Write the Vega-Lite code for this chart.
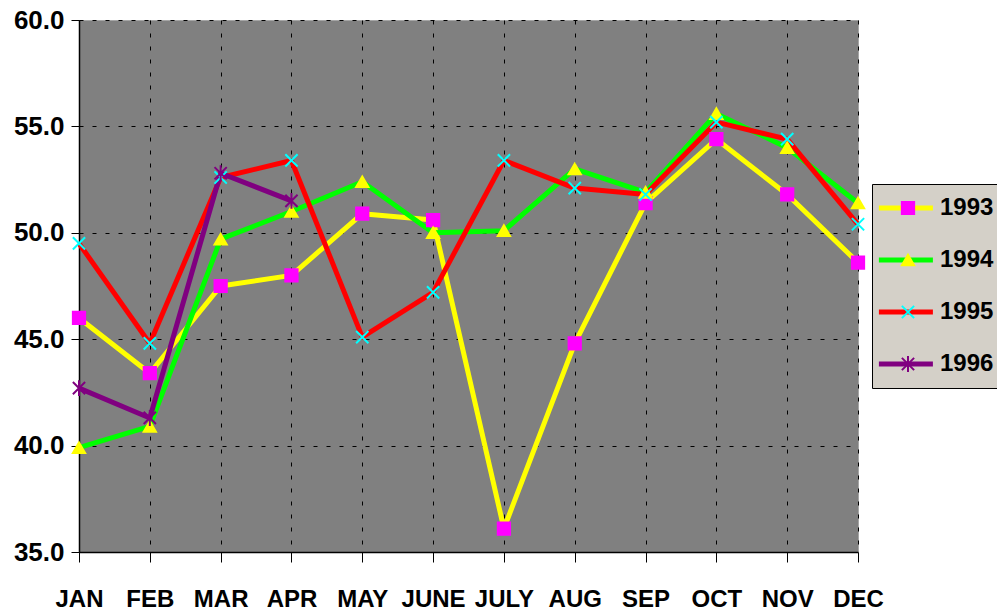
{
  "$schema": "https://vega.github.io/schema/vega-lite/v6.json",
  "width": 779,
  "height": 532,
  "autosize": "none",
  "padding": {"left": 79, "top": 20, "right": 139, "bottom": 61},
  "background": "white",
  "config": {
    "view": {"fill": "#808080", "stroke": "#a6a6a6", "strokeWidth": 1},
    "font": "Liberation Sans"
  },
  "data": {
    "values": [
      {"month": "JAN", "year": "1993", "value": 46.0},
      {"month": "FEB", "year": "1993", "value": 43.4},
      {"month": "MAR", "year": "1993", "value": 47.5},
      {"month": "APR", "year": "1993", "value": 48.0},
      {"month": "MAY", "year": "1993", "value": 50.9},
      {"month": "JUNE", "year": "1993", "value": 50.6},
      {"month": "JULY", "year": "1993", "value": 36.1},
      {"month": "AUG", "year": "1993", "value": 44.8},
      {"month": "SEP", "year": "1993", "value": 51.4},
      {"month": "OCT", "year": "1993", "value": 54.4},
      {"month": "NOV", "year": "1993", "value": 51.8},
      {"month": "DEC", "year": "1993", "value": 48.6},
      {"month": "JAN", "year": "1994", "value": 39.9},
      {"month": "FEB", "year": "1994", "value": 40.9},
      {"month": "MAR", "year": "1994", "value": 49.7},
      {"month": "APR", "year": "1994", "value": 51.0},
      {"month": "MAY", "year": "1994", "value": 52.4},
      {"month": "JUNE", "year": "1994", "value": 50.0},
      {"month": "JULY", "year": "1994", "value": 50.1},
      {"month": "AUG", "year": "1994", "value": 53.0},
      {"month": "SEP", "year": "1994", "value": 51.9},
      {"month": "OCT", "year": "1994", "value": 55.6},
      {"month": "NOV", "year": "1994", "value": 54.0},
      {"month": "DEC", "year": "1994", "value": 51.4},
      {"month": "JAN", "year": "1995", "value": 49.5},
      {"month": "FEB", "year": "1995", "value": 44.8},
      {"month": "MAR", "year": "1995", "value": 52.6},
      {"month": "APR", "year": "1995", "value": 53.4},
      {"month": "MAY", "year": "1995", "value": 45.1},
      {"month": "JUNE", "year": "1995", "value": 47.2},
      {"month": "JULY", "year": "1995", "value": 53.4},
      {"month": "AUG", "year": "1995", "value": 52.1},
      {"month": "SEP", "year": "1995", "value": 51.8},
      {"month": "OCT", "year": "1995", "value": 55.2},
      {"month": "NOV", "year": "1995", "value": 54.4},
      {"month": "DEC", "year": "1995", "value": 50.4},
      {"month": "JAN", "year": "1996", "value": 42.7},
      {"month": "FEB", "year": "1996", "value": 41.3},
      {"month": "MAR", "year": "1996", "value": 52.8},
      {"month": "APR", "year": "1996", "value": 51.5}
    ]
  },
  "encoding": {
    "x": {
      "field": "month",
      "type": "ordinal",
      "sort": ["JAN", "FEB", "MAR", "APR", "MAY", "JUNE", "JULY", "AUG", "SEP", "OCT", "NOV", "DEC"],
      "scale": {"type": "point", "padding": 0},
      "axis": {
        "title": null,
        "labelAngle": 0,
        "labelFont": "Liberation Sans",
        "labelFontWeight": "bold",
        "labelFontSize": 24,
        "labelColor": "black",
        "labelBaseline": "top",
        "labelPadding": 25,
        "labelOverlap": false,
        "tickSize": 10,
        "tickColor": "black",
        "domainColor": "black",
        "domainWidth": 1.5,
        "grid": true,
        "gridColor": "black",
        "gridDash": [4, 9],
        "gridWidth": 1
      }
    },
    "y": {
      "field": "value",
      "type": "quantitative",
      "scale": {"domain": [35, 60], "nice": false, "zero": false},
      "axis": {
        "title": null,
        "values": [35, 40, 45, 50, 55, 60],
        "format": ".1f",
        "labelFont": "Liberation Sans",
        "labelFontWeight": "bold",
        "labelFontSize": 26,
        "labelColor": "black",
        "labelPadding": 7,
        "tickSize": 8,
        "tickColor": "black",
        "domainColor": "black",
        "domainWidth": 1.5,
        "grid": true,
        "gridColor": "black",
        "gridDash": [4, 9],
        "gridWidth": 1
      }
    }
  },
  "layer": [
    {
      "mark": {"type": "line", "strokeWidth": 5, "strokeJoin": "round"},
      "encoding": {
        "color": {
          "field": "year",
          "type": "nominal",
          "scale": {"domain": ["1993", "1994", "1995", "1996"], "range": ["#ffff00", "#00ff00", "#ff0000", "#800080"]},
          "legend": {
            "title": null,
            "orient": "none",
            "legendX": 793,
            "legendY": 164,
            "zindex": 0,
            "symbolType": "M-1.9,0L4.1,0",
            "symbolSize": 324,
            "symbolStrokeWidth": 5,
            "labelFont": "Liberation Sans",
            "labelFontWeight": "bold",
            "labelFontSize": 24,
            "labelColor": "black",
            "labelOffset": 32,
            "rowPadding": 28,
            "padding": 12,
            "fillColor": "#d4d0c8",
            "strokeColor": "black"
          }
        }
      }
    },
    {
      "mark": {"type": "point", "opacity": 1, "size": 150, "strokeWidth": 2},
      "encoding": {
        "shape": {
          "field": "year",
          "type": "nominal",
          "scale": {"range": ["square", "triangle-up", "M-1,-1L1,1M-1,1L1,-1", "M-1,-1L1,1M-1,1L1,-1M0,-1.3L0,1.3"]},
          "legend": {
            "title": null,
            "orient": "none",
            "legendX": 805,
            "legendY": 164,
            "zindex": 1,
            "symbolSize": 150,
            "symbolStrokeWidth": 2,
            "labelFont": "Liberation Sans",
            "labelFontWeight": "bold",
            "labelFontSize": 24,
            "labelExpr": "' '",
            "labelOffset": 6,
            "rowPadding": 28,
            "padding": 12
          }
        },
        "fill": {
          "field": "year",
          "type": "nominal",
          "scale": {"range": ["#ff00ff", "#ffff00", "transparent", "#800080"]}
        },
        "stroke": {
          "field": "year",
          "type": "nominal",
          "scale": {"range": ["#ff00ff", "#ffff00", "#00ffff", "#800080"]}
        }
      }
    }
  ]
}
